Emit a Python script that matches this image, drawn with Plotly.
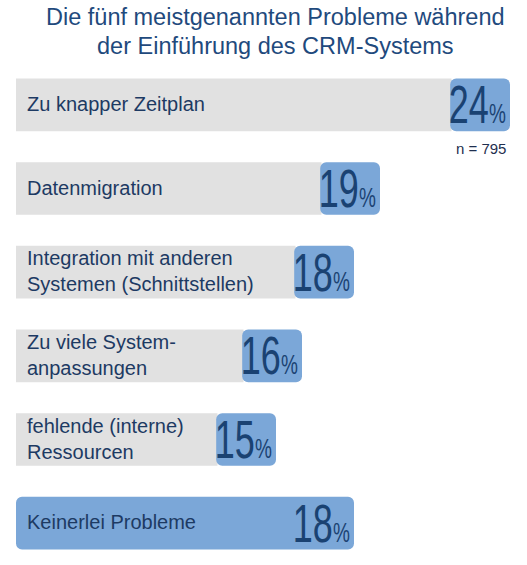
import plotly.graph_objects as go

title_lines = ["Die fünf meistgenannten Probleme während", "der Einführung des CRM-Systems"]
labels = ["Zu knapper Zeitplan", "Datenmigration", "Integration mit anderen<br>Systemen (Schnittstellen)",
          "Zu viele System-<br>anpassungen", "fehlende (interne)<br>Ressourcen", "Keinerlei Probleme"]
values = [24, 19, 18, 16, 15, 18]
full_blue = [False, False, False, False, False, True]
sample_note = "n = 795"

AXIS_START = 5
BLUE_W = 2.3
GRAY = "#e1e1e1"
BLUE = "#7ba7d8"
TEXT = "#1d3a63"
NUM = "#1a4272"

rows = list(range(len(values)))
gray_x, gray_base, blue_x, blue_base = [], [], [], []
for v, fb in zip(values, full_blue):
    if fb:
        gray_x.append(0); gray_base.append(AXIS_START)
        blue_base.append(AXIS_START); blue_x.append(v - AXIS_START)
    else:
        gray_base.append(AXIS_START); gray_x.append(v - BLUE_W - AXIS_START + 0.05)
        blue_base.append(v - BLUE_W); blue_x.append(BLUE_W)

fig = go.Figure()
fig.add_trace(go.Bar(y=rows, x=gray_x, base=gray_base, orientation="h", width=0.63,
                     marker=dict(color=GRAY, line=dict(width=0)), hoverinfo="skip"))
fig.add_trace(go.Bar(y=rows, x=blue_x, base=blue_base, orientation="h", width=0.63,
                     marker=dict(color=BLUE, line=dict(width=0), cornerradius=6), hoverinfo="skip"))

ann = []
for i, (lab, v) in enumerate(zip(labels, values)):
    ann.append(dict(x=AXIS_START, y=i, xref="x", yref="y", text=lab, showarrow=False,
                    xanchor="left", yanchor="middle", align="left", xshift=9, yshift=1,
                    font=dict(family="Liberation Sans, Arial, sans-serif", size=20, color=TEXT)))
    ann.append(dict(x=v, y=i, xref="x", yref="y",
                    text=f"{v}<span style='font-size:28px'>%</span>", showarrow=False,
                    xanchor="right", yanchor="middle", xshift=-2, yshift=0,
                    font=dict(family="Liberation Sans, Arial, sans-serif", size=53, color=NUM)))
ann.append(dict(x=values[0], y=0.52, xref="x", yref="y", text=sample_note, showarrow=False,
                xanchor="right", yanchor="middle", xshift=-2,
                font=dict(family="Liberation Sans, Arial, sans-serif", size=15, color="#1f2f4f")))
for line, ys in zip(title_lines, [46.5, 17.5]):
    ann.append(dict(x=268 / 527, y=1, xref="paper", yref="paper", text=line, showarrow=False,
                    xanchor="center", yanchor="middle", yshift=ys,
                    font=dict(family="Liberation Sans, Arial, sans-serif", size=23.5, color="#1f4a7d")))

fig.update_layout(
    width=527, height=565,
    margin=dict(l=16, r=0, t=63, b=0),
    paper_bgcolor="white", plot_bgcolor="white",
    barmode="overlay", showlegend=False,
    xaxis=dict(range=[AXIS_START, AXIS_START + 511 / 26], visible=False, fixedrange=True),
    yaxis=dict(range=[5.5, -0.5], visible=False, fixedrange=True),
    annotations=ann,
)

page_js = """
document.body.style.margin = '0';
var gd = document.getElementById('{plot_id}');
gd.querySelectorAll('text.annotation-text').forEach(function (t) {
  if (t.textContent.indexOf('%') >= 0) {
    t.style.transformBox = 'fill-box';
    t.style.transformOrigin = '100% 50%';
    t.style.transform = 'scaleX(0.68)';
  }
});
"""
fig.write_html("out.html", post_script=page_js, config={"displayModeBar": False})
